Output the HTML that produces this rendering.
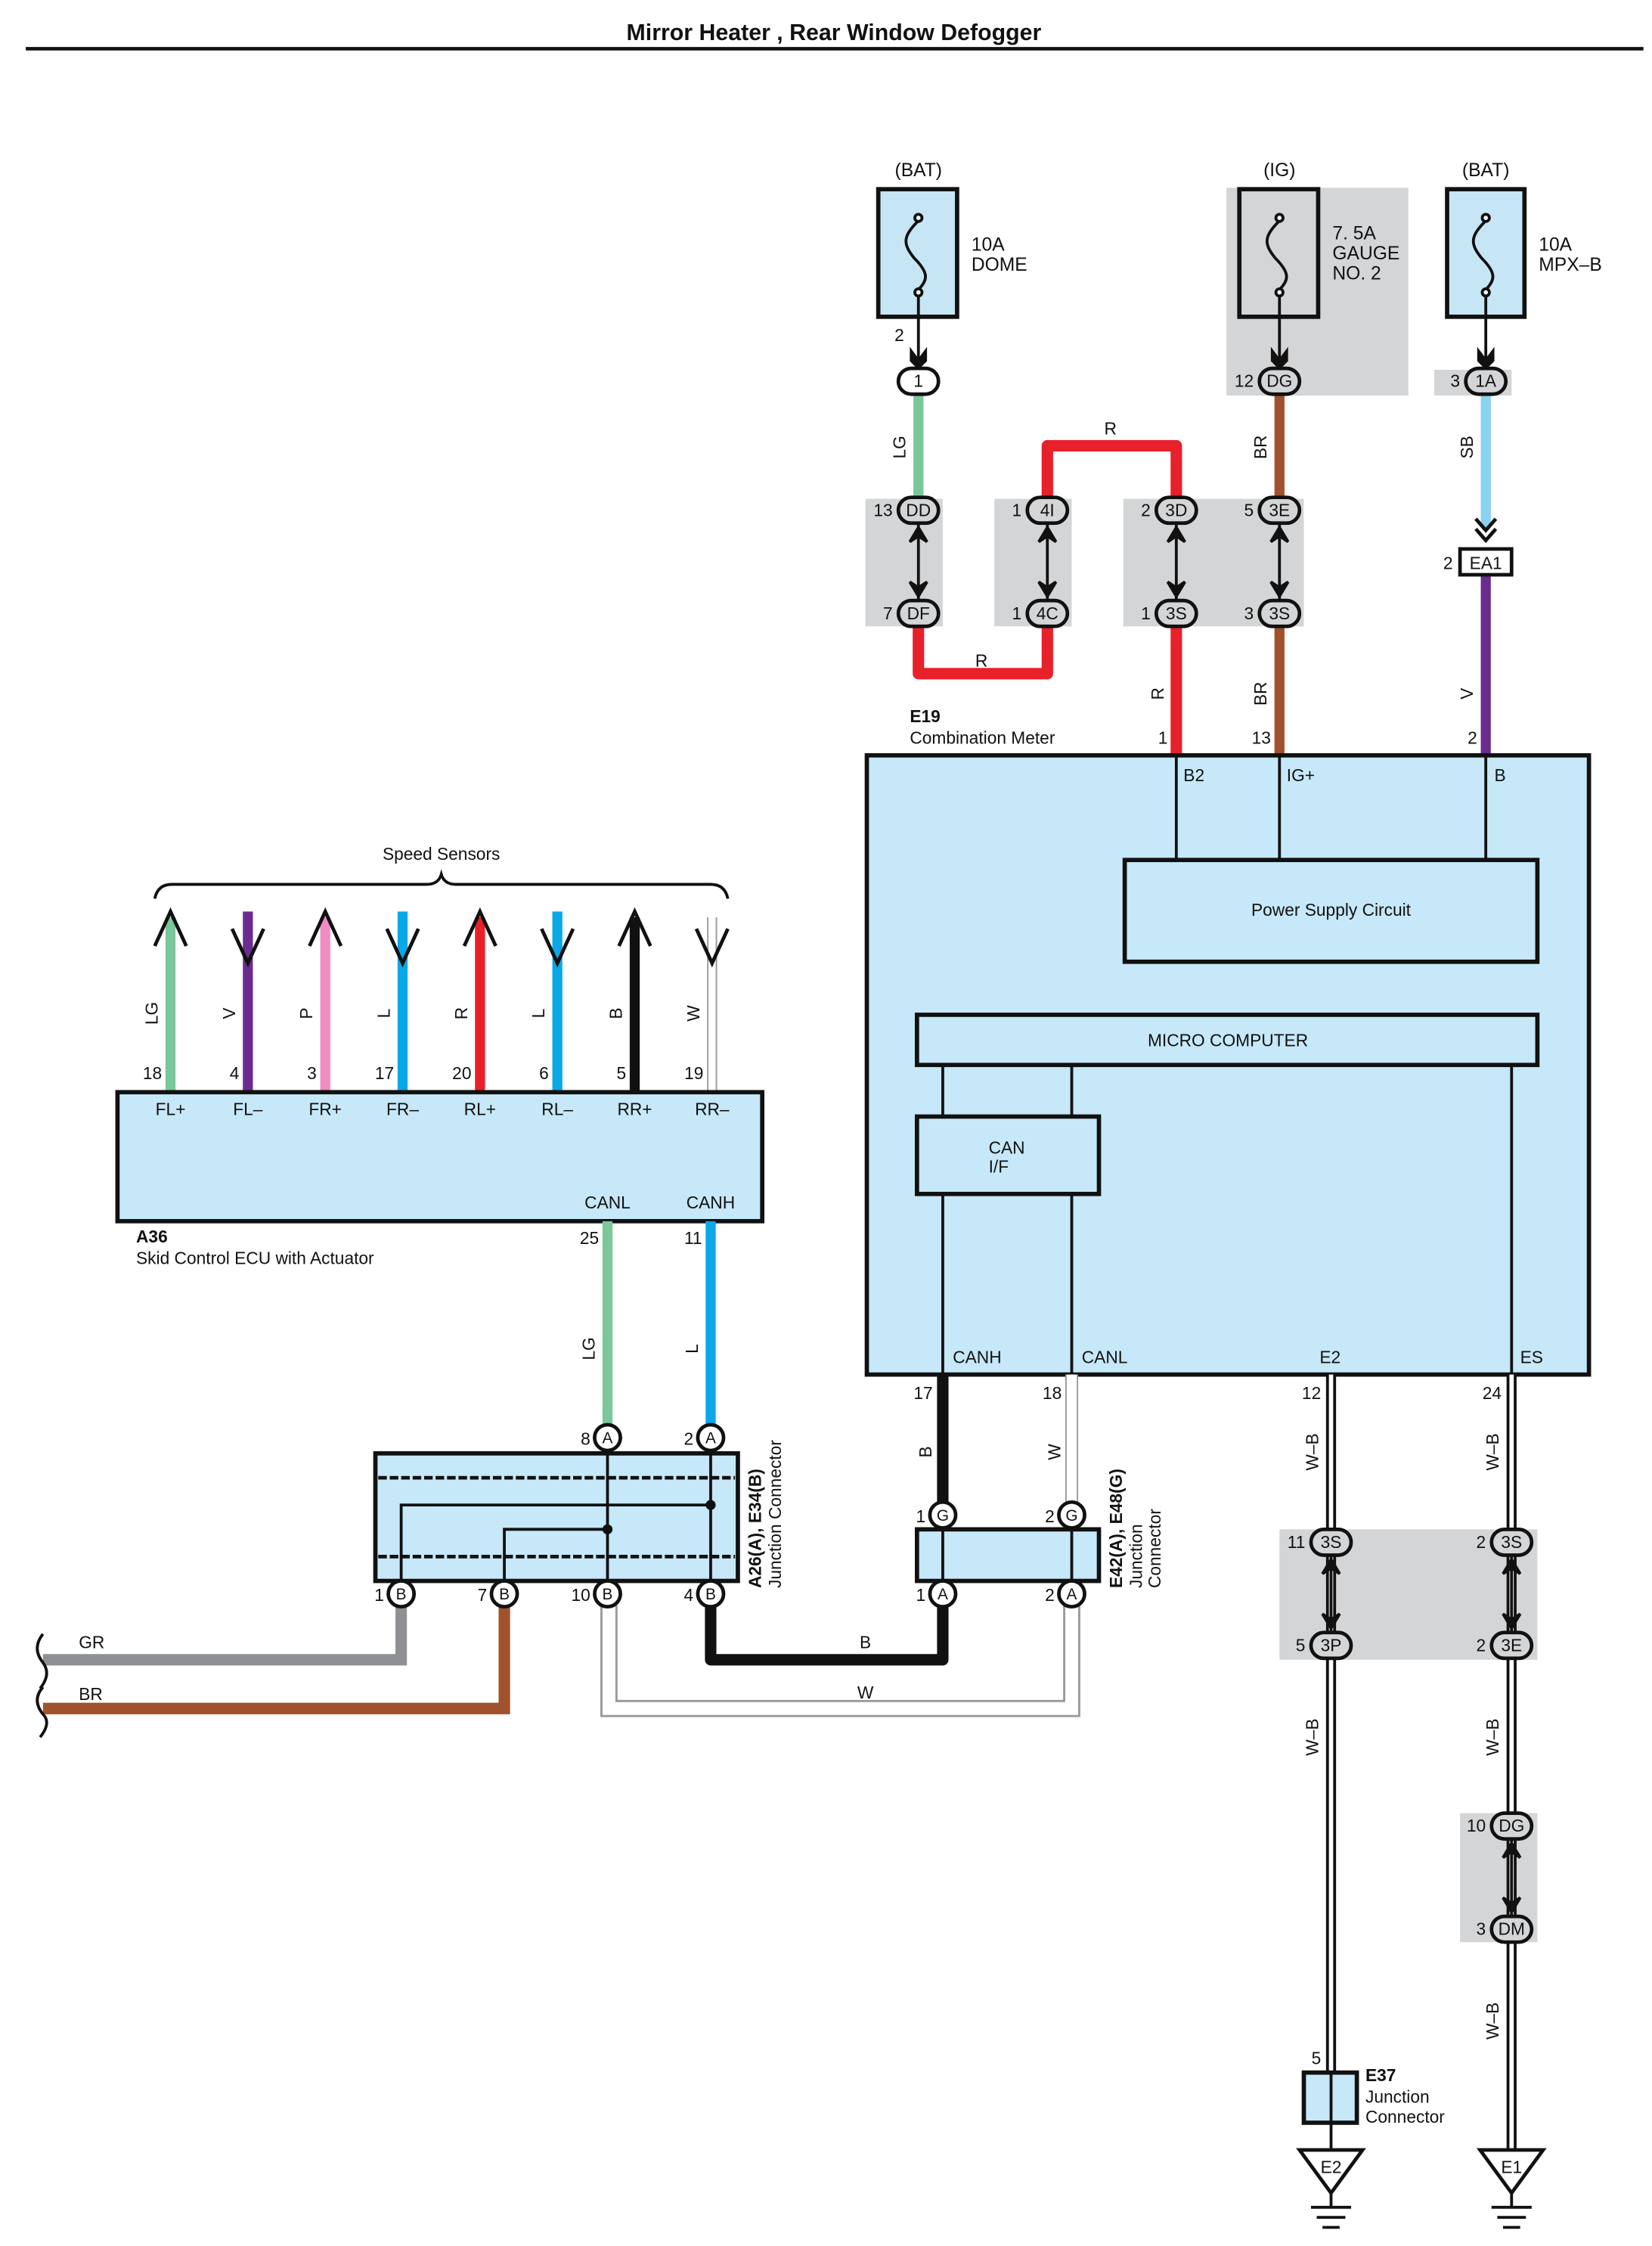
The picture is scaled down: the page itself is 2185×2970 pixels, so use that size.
<!DOCTYPE html>
<html><head><meta charset="utf-8"><style>
html,body{margin:0;padding:0;background:#fff}
svg{display:block}
text{font-family:"Liberation Sans",sans-serif;fill:#111}
</style></head><body>
<svg width="2185" height="2970" viewBox="0 0 1153 1567" preserveAspectRatio="none" xmlns="http://www.w3.org/2000/svg">
<defs>
<g id="dar">
<line x1="0" y1="-26" x2="0" y2="26" stroke="#111" stroke-width="2"/>
<path d="M-6,-14 L0,-24 L6,-14 L0,-18 Z" fill="#111" stroke="#111" stroke-width="2"/>
<path d="M-6,14 L0,24 L6,14 L0,18 Z" fill="#111" stroke="#111" stroke-width="2"/>
</g>
</defs>
<rect width="1160" height="1577" fill="#fff"/>
<text x="582" y="28" font-size="16" font-weight="bold" text-anchor="middle">Mirror Heater , Rear Window Defogger</text>
<line x1="18" y1="34" x2="1147" y2="34" stroke="#111" stroke-width="2.5"/>

<g fill="#d4d5d7">
<rect x="856" y="131" width="127" height="145"/>
<rect x="1001" y="258" width="54" height="18"/>
<rect x="604" y="348" width="54" height="89"/>
<rect x="694" y="348" width="54" height="89"/>
<rect x="784" y="348" width="126" height="89"/>
<rect x="893" y="1067" width="180" height="91"/>
<rect x="1019" y="1265" width="54" height="90"/>
</g>

<g font-size="13">
<text x="641" y="123" text-anchor="middle">(BAT)</text>
<text x="893" y="123" text-anchor="middle">(IG)</text>
<text x="1037" y="123" text-anchor="middle">(BAT)</text>
<text x="678" y="175">10A</text><text x="678" y="189">DOME</text>
<text x="930" y="167">7. 5A</text><text x="930" y="181">GAUGE</text><text x="930" y="195">NO. 2</text>
<text x="1074" y="175">10A</text><text x="1074" y="189">MPX–B</text>
</g>
<g stroke="#111" stroke-width="3" fill="#c6e6f6">
<rect x="613" y="132" width="55" height="89"/>
<rect x="865" y="132" width="55" height="89" fill="#d4d5d7"/>
<rect x="1010" y="132" width="54" height="89"/>
</g>
<g fill="none" stroke="#111" stroke-width="2">
<path d="M641,154 C630,165 630,170 638,180 C648,190 648,195 641,202"/><circle cx="641" cy="152" r="2.5" fill="#fff"/><circle cx="641" cy="204" r="2.5" fill="#fff"/>
<path d="M893,154 C882,165 882,170 890,180 C900,190 900,195 893,202"/><circle cx="893" cy="152" r="2.5" fill="#fff"/><circle cx="893" cy="204" r="2.5" fill="#fff"/>
<path d="M1037,154 C1026,165 1026,170 1034,180 C1044,190 1044,195 1037,202"/><circle cx="1037" cy="152" r="2.5" fill="#fff"/><circle cx="1037" cy="204" r="2.5" fill="#fff"/>
<line x1="641" y1="206" x2="641" y2="255"/><line x1="893" y1="206" x2="893" y2="255"/><line x1="1037" y1="206" x2="1037" y2="255"/>
</g>
<g fill="#111">
<path d="M635,242 L641,250 L647,242 L647,252 L641,258 L635,252Z"/>
<path d="M887,242 L893,250 L899,242 L899,252 L893,258 L887,252Z"/>
<path d="M1031,242 L1037,250 L1043,242 L1043,252 L1037,258 L1031,252Z"/>
</g>
<text x="631" y="238" font-size="12" text-anchor="end">2</text>

<g fill="none" stroke-linejoin="round" stroke-linecap="butt">
<line x1="641" y1="275" x2="641" y2="348" stroke="#7ac79a" stroke-width="7"/>
<line x1="893" y1="275" x2="893" y2="348" stroke="#a0522d" stroke-width="7"/>
<line x1="893" y1="437" x2="893" y2="527" stroke="#a0522d" stroke-width="7"/>
<line x1="1037" y1="275" x2="1037" y2="368" stroke="#87d3f0" stroke-width="7"/>
<line x1="1037" y1="401" x2="1037" y2="527" stroke="#6b2c91" stroke-width="7"/>
<path d="M641,437 V470 H731 V437" stroke="#e8202a" stroke-width="8"/>
<path d="M731,348 V311 H821 V348" stroke="#e8202a" stroke-width="8"/>
<line x1="821" y1="437" x2="821" y2="527" stroke="#e8202a" stroke-width="8"/>
</g>
<g fill="none" stroke="#111" stroke-width="2.5">
<path d="M1030,362 L1037,370 L1044,362 M1030,369 L1037,377 L1044,369"/>
</g>
<rect x="1019" y="383" width="36" height="18" fill="#fff" stroke="#111" stroke-width="2.5"/>
<text x="1037" y="397" font-size="12" text-anchor="middle">EA1</text>
<text x="1014" y="397" font-size="12" text-anchor="end">2</text>

<use href="#dar" x="641" y="392"/><use href="#dar" x="731" y="392"/><use href="#dar" x="821" y="392"/><use href="#dar" x="893" y="392"/>

<g stroke="#111" stroke-width="2.5" fill="#d4d5d7">
<rect x="627" y="257" width="28" height="18" rx="9" fill="#fff"/>
<rect x="879" y="257" width="28" height="18" rx="9"/>
<rect x="1023" y="257" width="28" height="18" rx="9"/>
<rect x="627" y="347" width="28" height="18" rx="9"/>
<rect x="627" y="419" width="28" height="18" rx="9"/>
<rect x="717" y="347" width="28" height="18" rx="9"/>
<rect x="717" y="419" width="28" height="18" rx="9"/>
<rect x="807" y="347" width="28" height="18" rx="9"/>
<rect x="807" y="419" width="28" height="18" rx="9"/>
<rect x="879" y="347" width="28" height="18" rx="9"/>
<rect x="879" y="419" width="28" height="18" rx="9"/>
</g>
<g font-size="12" text-anchor="middle">
<text x="641" y="270">1</text><text x="893" y="270">DG</text><text x="1037" y="270">1A</text>
<text x="641" y="360">DD</text><text x="641" y="432">DF</text><text x="731" y="360">4I</text><text x="731" y="432">4C</text>
<text x="821" y="360">3D</text><text x="821" y="432">3S</text><text x="893" y="360">3E</text><text x="893" y="432">3S</text>
</g>
<g font-size="12" text-anchor="end">
<text x="875" y="270">12</text><text x="1019" y="270">3</text>
<text x="623" y="360">13</text><text x="623" y="432">7</text><text x="713" y="360">1</text><text x="713" y="432">1</text>
<text x="803" y="360">2</text><text x="803" y="432">1</text><text x="875" y="360">5</text><text x="875" y="432">3</text>
<text x="911" y="1080">11</text><text x="911" y="1152">5</text><text x="1037" y="1080">2</text><text x="1037" y="1152">2</text>
<text x="1037" y="1278">10</text><text x="1037" y="1350">3</text>
</g>
<g font-size="12" text-anchor="middle">
<text x="775" y="303">R</text><text x="685" y="465">R</text>
<text transform="translate(632,312) rotate(-90)">LG</text>
<text transform="translate(884,312) rotate(-90)">BR</text>
<text transform="translate(1028,312) rotate(-90)">SB</text>
<text transform="translate(812,484) rotate(-90)">R</text>
<text transform="translate(884,484) rotate(-90)">BR</text>
<text transform="translate(1028,484) rotate(-90)">V</text>
</g>
<text x="635" y="504" font-size="12" font-weight="bold">E19</text>
<text x="635" y="519" font-size="12">Combination Meter</text>
<g font-size="12" text-anchor="end"><text x="815" y="519">1</text><text x="887" y="519">13</text><text x="1031" y="519">2</text></g>

<rect x="605" y="527" width="504" height="432" fill="#c6e8f8" stroke="#111" stroke-width="3"/>
<g stroke="#111" stroke-width="2" fill="none">
<line x1="821" y1="527" x2="821" y2="600"/><line x1="893" y1="527" x2="893" y2="600"/><line x1="1037" y1="527" x2="1037" y2="600"/>
<line x1="658" y1="743" x2="658" y2="959"/><line x1="748" y1="743" x2="748" y2="959"/><line x1="1055" y1="743" x2="1055" y2="959"/>
</g>
<g stroke="#111" stroke-width="3" fill="#c6e8f8">
<rect x="785" y="600" width="288" height="71"/>
<rect x="640" y="708" width="433" height="35"/>
<rect x="640" y="779" width="127" height="54"/>
</g>
<g font-size="12">
<text x="826" y="545">B2</text><text x="898" y="545">IG+</text><text x="1043" y="545">B</text>
<text x="929" y="639" text-anchor="middle">Power Supply Circuit</text>
<text x="857" y="730" text-anchor="middle">MICRO COMPUTER</text>
<text x="690" y="805">CAN</text><text x="690" y="818">I/F</text>
<text x="665" y="951">CANH</text><text x="755" y="951">CANL</text><text x="921" y="951">E2</text><text x="1061" y="951">ES</text>
</g>

<line x1="658" y1="959" x2="658" y2="1050" stroke="#111" stroke-width="8"/>
<line x1="748" y1="959" x2="748" y2="1050" stroke="#999" stroke-width="9"/>
<line x1="748" y1="959" x2="748" y2="1050" stroke="#fff" stroke-width="7"/>
<g stroke-linecap="butt">
<line x1="929" y1="959" x2="929" y2="1446" stroke="#111" stroke-width="7"/>
<line x1="929" y1="959" x2="929" y2="1446" stroke="#fff" stroke-width="3"/>
<line x1="929" y1="1481" x2="929" y2="1500" stroke="#111" stroke-width="2"/>
<line x1="1055" y1="959" x2="1055" y2="1500" stroke="#111" stroke-width="7"/>
<line x1="1055" y1="959" x2="1055" y2="1500" stroke="#fff" stroke-width="3"/>
</g>
<g stroke="#111" stroke-width="2.5" fill="#d4d5d7">
<rect x="915" y="1067" width="28" height="18" rx="9"/><rect x="915" y="1139" width="28" height="18" rx="9"/>
<rect x="1041" y="1067" width="28" height="18" rx="9"/><rect x="1041" y="1139" width="28" height="18" rx="9"/>
<rect x="1041" y="1265" width="28" height="18" rx="9"/><rect x="1041" y="1337" width="28" height="18" rx="9"/>
</g>
<g font-size="12" text-anchor="middle">
<text x="929" y="1080">3S</text><text x="929" y="1152">3P</text><text x="1055" y="1080">3S</text><text x="1055" y="1152">3E</text>
<text x="1055" y="1278">DG</text><text x="1055" y="1350">DM</text>
</g>
<use href="#dar" x="929" y="1112"/><use href="#dar" x="1055" y="1112"/><use href="#dar" x="1055" y="1310"/>
<g font-size="12" text-anchor="end">
<text x="651" y="976">17</text><text x="741" y="976">18</text><text x="922" y="976">12</text><text x="1048" y="976">24</text>
<text x="922" y="1440">5</text>
</g>
<g font-size="12" text-anchor="middle">
<text transform="translate(650,1013) rotate(-90)">B</text>
<text transform="translate(740,1013) rotate(-90)">W</text>
<text transform="translate(920,1013) rotate(-90)">W–B</text>
<text transform="translate(1046,1013) rotate(-90)">W–B</text>
<text transform="translate(920,1212) rotate(-90)">W–B</text>
<text transform="translate(1046,1212) rotate(-90)">W–B</text>
<text transform="translate(1046,1410) rotate(-90)">W–B</text>
</g>
<rect x="910" y="1446" width="37" height="35" fill="#c6e8f8" stroke="#111" stroke-width="3"/>
<line x1="929" y1="1446" x2="929" y2="1481" stroke="#111" stroke-width="2"/>
<text x="953" y="1452" font-size="12" font-weight="bold">E37</text>
<text x="953" y="1467" font-size="12">Junction</text>
<text x="953" y="1481" font-size="12">Connector</text>
<g stroke="#111" stroke-width="2.5" fill="#fff">
<path d="M907,1500 H951 L929,1530 Z"/><path d="M1033,1500 H1077 L1055,1530 Z"/>
</g>
<g stroke="#111" stroke-width="2" fill="none">
<path d="M929,1530 V1540 M915,1540 H943 M919,1547 H939 M923,1554 H935"/>
<path d="M1055,1530 V1540 M1041,1540 H1069 M1045,1547 H1065 M1049,1554 H1061"/>
</g>
<text x="929" y="1516" font-size="12" text-anchor="middle">E2</text>
<text x="1055" y="1516" font-size="12" text-anchor="middle">E1</text>

<text x="308" y="600" font-size="12" text-anchor="middle">Speed Sensors</text>
<path d="M108,627 Q110,617 120,617 H298 Q306,617 308,610 Q310,617 318,617 H496 Q506,617 508,627" fill="none" stroke="#111" stroke-width="2"/>
<g stroke-width="7">
<line x1="119" y1="640" x2="119" y2="762" stroke="#7ac79a"/>
<line x1="173" y1="636" x2="173" y2="762" stroke="#6b2c91"/>
<line x1="227" y1="640" x2="227" y2="762" stroke="#f08cc0"/>
<line x1="281" y1="636" x2="281" y2="762" stroke="#0aa8e6"/>
<line x1="335" y1="640" x2="335" y2="762" stroke="#e8202a"/>
<line x1="389" y1="636" x2="389" y2="762" stroke="#0aa8e6"/>
<line x1="443" y1="640" x2="443" y2="762" stroke="#111"/>
<line x1="497" y1="640" x2="497" y2="762" stroke="#999"/>
</g>
<line x1="497" y1="640" x2="497" y2="762" stroke="#fff" stroke-width="5"/>
<g fill="none" stroke="#111" stroke-width="2.5">
<path d="M108,660 L119,636 L130,660"/><path d="M162,648 L173,672 L184,648"/>
<path d="M216,660 L227,636 L238,660"/><path d="M270,648 L281,672 L292,648"/>
<path d="M324,660 L335,636 L346,660"/><path d="M378,648 L389,672 L400,648"/>
<path d="M432,660 L443,636 L454,660"/><path d="M486,648 L497,672 L508,648"/>
</g>
<g font-size="12" text-anchor="middle">
<text transform="translate(110,707) rotate(-90)">LG</text>
<text transform="translate(164,707) rotate(-90)">V</text>
<text transform="translate(218,707) rotate(-90)">P</text>
<text transform="translate(272,707) rotate(-90)">L</text>
<text transform="translate(326,707) rotate(-90)">R</text>
<text transform="translate(380,707) rotate(-90)">L</text>
<text transform="translate(434,707) rotate(-90)">B</text>
<text transform="translate(488,707) rotate(-90)">W</text>
</g>
<g font-size="12" text-anchor="end">
<text x="113" y="753">18</text><text x="167" y="753">4</text><text x="221" y="753">3</text><text x="275" y="753">17</text>
<text x="329" y="753">20</text><text x="383" y="753">6</text><text x="437" y="753">5</text><text x="491" y="753">19</text>
</g>
<rect x="82" y="762" width="450" height="90" fill="#c6e8f8" stroke="#111" stroke-width="3"/>
<g font-size="12" text-anchor="middle">
<text x="119" y="778">FL+</text><text x="173" y="778">FL–</text><text x="227" y="778">FR+</text><text x="281" y="778">FR–</text>
<text x="335" y="778">RL+</text><text x="389" y="778">RL–</text><text x="443" y="778">RR+</text><text x="497" y="778">RR–</text>
<text x="424" y="843">CANL</text><text x="496" y="843">CANH</text>
</g>
<text x="95" y="867" font-size="12" font-weight="bold">A36</text>
<text x="95" y="882" font-size="12">Skid Control ECU with Actuator</text>
<g font-size="12" text-anchor="end"><text x="418" y="868">25</text><text x="490" y="868">11</text></g>
<line x1="424" y1="852" x2="424" y2="995" stroke="#7ac79a" stroke-width="7"/>
<line x1="496" y1="852" x2="496" y2="995" stroke="#0aa8e6" stroke-width="7"/>
<g font-size="12" text-anchor="middle">
<text transform="translate(415,941) rotate(-90)">LG</text>
<text transform="translate(487,941) rotate(-90)">L</text>
</g>

<path d="M280,1120 V1158 H30" fill="none" stroke="#8e9093" stroke-width="8"/>
<path d="M352,1120 V1192 H30" fill="none" stroke="#a0522d" stroke-width="8"/>
<path d="M496,1120 V1158 H658 V1120" fill="none" stroke="#111" stroke-width="8" stroke-linejoin="round"/>
<path d="M425,1120 V1192 H748 V1120" fill="none" stroke="#999" stroke-width="12"/>
<path d="M425,1120 V1192 H748 V1120" fill="none" stroke="#fff" stroke-width="9"/>
<path d="M30,1140 Q22,1150 30,1160 Q36,1168 28,1178 M30,1177 Q22,1186 30,1196 Q36,1202 28,1212" fill="none" stroke="#111" stroke-width="2"/>
<g font-size="12">
<text x="55" y="1150">GR</text><text x="55" y="1186">BR</text>
<text x="604" y="1150" text-anchor="middle">B</text><text x="604" y="1185" text-anchor="middle">W</text>
</g>

<rect x="262" y="1014" width="253" height="89" fill="#c6e8f8" stroke="#111" stroke-width="3"/>
<g stroke="#111" stroke-width="2.5" fill="none">
<line x1="264" y1="1031" x2="513" y2="1031" stroke-dasharray="6,2"/>
<line x1="264" y1="1086" x2="513" y2="1086" stroke-dasharray="6,2"/>
</g>
<g stroke="#111" stroke-width="2" fill="none">
<line x1="424" y1="1003" x2="424" y2="1112"/><line x1="496" y1="1003" x2="496" y2="1112"/>
<path d="M496,1050 H280 V1112"/><path d="M424,1067 H352 V1112"/>
</g>
<circle cx="496" cy="1050" r="3.5" fill="#111"/><circle cx="424" cy="1067" r="3.5" fill="#111"/>
<rect x="640" y="1067" width="127" height="36" fill="#c6e8f8" stroke="#111" stroke-width="3"/>
<g stroke="#111" stroke-width="2"><line x1="658" y1="1057" x2="658" y2="1112"/><line x1="748" y1="1057" x2="748" y2="1112"/></g>
<g stroke="#111" stroke-width="2.5" fill="#fff">
<ellipse cx="424" cy="1003" rx="9" ry="9"/><ellipse cx="496" cy="1003" rx="9" ry="9"/>
<ellipse cx="280" cy="1112" rx="9" ry="9"/><ellipse cx="352" cy="1112" rx="9" ry="9"/>
<ellipse cx="424" cy="1112" rx="9" ry="9"/><ellipse cx="496" cy="1112" rx="9" ry="9"/>
<ellipse cx="658" cy="1057" rx="9" ry="9"/><ellipse cx="748" cy="1057" rx="9" ry="9"/>
<ellipse cx="658" cy="1112" rx="9" ry="9"/><ellipse cx="748" cy="1112" rx="9" ry="9"/>
</g>
<g font-size="11" text-anchor="middle">
<text x="424" y="1007">A</text><text x="496" y="1007">A</text>
<text x="280" y="1116">B</text><text x="352" y="1116">B</text><text x="424" y="1116">B</text><text x="496" y="1116">B</text>
<text x="658" y="1061">G</text><text x="748" y="1061">G</text><text x="658" y="1116">A</text><text x="748" y="1116">A</text>
</g>
<g font-size="12" text-anchor="end">
<text x="412" y="1008">8</text><text x="484" y="1008">2</text>
<text x="268" y="1117">1</text><text x="340" y="1117">7</text><text x="412" y="1117">10</text><text x="484" y="1117">4</text>
<text x="646" y="1062">1</text><text x="736" y="1062">2</text><text x="646" y="1117">1</text><text x="736" y="1117">2</text>
</g>
<g font-size="12">
<text transform="translate(531,1108) rotate(-90)" font-weight="bold">A26(A), E34(B)</text>
<text transform="translate(545,1108) rotate(-90)">Junction Connector</text>
<text transform="translate(783,1108) rotate(-90)" font-weight="bold">E42(A), E48(G)</text>
<text transform="translate(797,1108) rotate(-90)">Junction</text>
<text transform="translate(810,1108) rotate(-90)">Connector</text>
</g>
</svg>
</body></html>
